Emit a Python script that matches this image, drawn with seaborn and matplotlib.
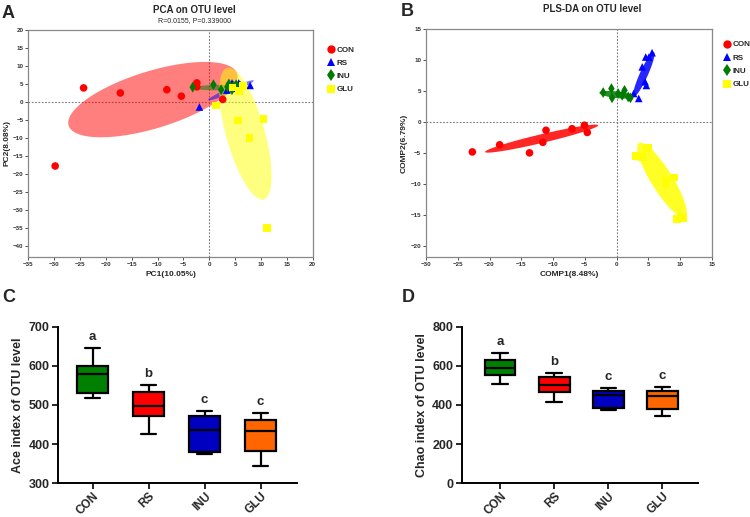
import numpy as np
import pandas as pd
import matplotlib
matplotlib.use("Agg")
import matplotlib.pyplot as plt
from matplotlib.lines import Line2D
import seaborn as sns

# ---- data -------------------------------------------------------------
groups = ["CON", "RS", "INU", "GLU"]

# panel A: PCA scores (PC1, PC2)
pca_x = {
    "CON": [-24.3, -17.2, -8.2, -5.4, -2.4, -2.4, 2.6, -29.8],
    "RS": [-1.9, 3.4, 4.4, 5.2, 5.7, 6.0, 7.9, 4.8],
    "INU": [-3.2, 0.8, 2.3, 3.8, 4.7, 4.4, 5.2, 3.5],
    "GLU": [1.3, 5.5, 10.5, 7.8, 11.2, 5.7, 4.5, 6.5],
}
pca_y = {
    "CON": [3.9, 2.5, 3.4, 1.6, 5.3, 4.2, 0.7, -17.8],
    "RS": [-1.4, 3.3, 5.3, 4.5, 5.3, 4.8, 4.6, 3.8],
    "INU": [4.1, 4.8, 3.4, 5.0, 4.4, 3.4, 4.8, 4.2],
    "GLU": [-1.0, -5.1, -4.7, -10.0, -35.0, 3.0, 4.0, 4.5],
}
# confidence ellipses: centre, semi-axis vector u, semi-axis vector v
pca_ell = {
    "CON": [(-10.9, 0.65), (16.3, 7.2), (-1.6, 7.6)],
    "RS": [(4.2, 3.25), (4.4, 2.7), (0.2, -0.69)],
    "INU": [(1.7, 4.0), (4.8, 0.1), (0.0, 0.75)],
    "GLU": [(7.0, -8.8), (3.55, -18.3), (3.6, 1.45)],
}

# panel B: PLS-DA scores (COMP1, COMP2)
pls_x = {
    "CON": [-22.7, -18.4, -13.7, -11.6, -11.1, -7.0, -5.05, -4.6],
    "RS": [3.5, 2.7, 4.05, 4.6, 5.6, 4.5, 4.7, 5.1],
    "INU": [-2.1, -0.8, -0.7, 0.26, 1.26, 1.84, 2.2, 0.9],
    "GLU": [3.1, 4.05, 5.0, 7.7, 9.05, 9.5, 10.5, 7.7],
}
pls_y = {
    "CON": [-4.85, -3.7, -5.0, -3.3, -1.35, -1.1, -0.54, -1.7],
    "RS": [3.8, 4.6, 8.9, 10.5, 11.2, 6.5, 5.9, 10.5],
    "INU": [4.75, 5.4, 3.9, 4.6, 5.1, 4.05, 3.9, 4.3],
    "GLU": [-5.55, -5.65, -4.2, -9.45, -9.0, -15.75, -15.5, -9.9],
}
pls_ell = {
    "CON": [(-11.8, -2.7), (8.9, 2.16), (0.16, -0.68)],
    "RS": [(4.3, 7.7), (1.58, 3.6), (0.58, -0.26)],
    "INU": [(0.0, 4.4), (2.7, -0.32), (-0.06, -0.53)],
    "GLU": [(7.16, -9.4), (3.63, -5.99), (1.43, 0.91)],
}

# panels C/D: box summaries [min, q1, median, q3, max]
ace_stats = {
    "CON": [517, 531, 578, 600, 646],
    "RS": [427, 473, 497, 534, 551],
    "INU": [375, 380, 436, 473, 485],
    "GLU": [345, 383, 434, 462, 480],
}
chao_stats = {
    "CON": [505, 554, 588, 631, 666],
    "RS": [415, 466, 503, 541, 564],
    "INU": [376, 384, 453, 473, 485],
    "GLU": [342, 381, 444, 469, 492],
}
sig_letters = ["a", "b", "c", "c"]

# ---- style ------------------------------------------------------------
sns.set_style("white")
plt.rcParams["font.family"] = ["Liberation Sans", "DejaVu Sans"]
plt.rcParams["font.weight"] = "bold"
plt.rcParams["axes.labelweight"] = "bold"

pt_colors = {"CON": "#ff0000", "RS": "#0000ff", "INU": "#007a00", "GLU": "#ffff00"}
markers = {"CON": "o", "RS": "^", "INU": "d", "GLU": "s"}
box_colors = {"CON": "#008000", "RS": "#ff0000", "INU": "#0000c0", "GLU": "#ff6600"}

fig = plt.figure(figsize=(7.5, 5.17), dpi=100)


def to_long(xd, yd):
    rows = []
    for g in groups:
        for x, y in zip(xd[g], yd[g]):
            rows.append({"x": x, "y": y, "group": g})
    return pd.DataFrame(rows)


def ordination(rect, xd, yd, ell, alpha, xlim, ylim, xt, yt, xlabel, ylabel, leg_xy):
    ax = fig.add_axes(rect)
    t = np.linspace(0, 2 * np.pi, 200)
    for g in groups:
        (cx, cy), (ux, uy), (vx, vy) = ell[g]
        ax.fill(cx + ux * np.cos(t) + vx * np.sin(t),
                cy + uy * np.cos(t) + vy * np.sin(t),
                color=pt_colors[g], alpha=alpha, lw=0, zorder=1)
    ax.axhline(0, color="#777777", ls=(0, (1.5, 1.5)), lw=0.8, zorder=0)
    ax.axvline(0, color="#777777", ls=(0, (1.5, 1.5)), lw=0.8, zorder=0)
    df = to_long(xd, yd)
    sns.scatterplot(data=df, x="x", y="y", hue="group", style="group",
                    palette=pt_colors, markers=markers, s=30, linewidth=0,
                    legend=False, ax=ax, zorder=3)
    ax.set_xlim(*xlim)
    ax.set_ylim(*ylim)
    ax.set_xticks(xt)
    ax.set_yticks(yt)
    ax.tick_params(labelsize=4.5, length=2, width=0.6, colors="#333333",
                   bottom=True, left=True, pad=1.5)
    for s in ax.spines.values():
        s.set_color("#888888")
        s.set_linewidth(0.9)
    ax.set_xlabel(xlabel, fontsize=6, labelpad=3)
    ax.set_ylabel(ylabel, fontsize=6, labelpad=2)
    handles = [Line2D([], [], ls="", marker=markers[g], color=pt_colors[g],
                      markersize=6, markeredgewidth=0, label=g) for g in groups]
    fig.legend(handles=handles, loc="upper left", bbox_to_anchor=leg_xy,
               frameon=False, fontsize=5.8, handletextpad=0.1,
               labelspacing=0.7, handlelength=1.2)
    return ax


ordination([0.0377, 0.5035, 0.3792, 0.4385], pca_x, pca_y, pca_ell, 0.5,
           (-35, 20), (-43, 20), np.arange(-35, 21, 5), np.arange(-40, 21, 5),
           "PC1(10.05%)", "PC2(8.08%)", (0.425, 0.925))
ordination([0.568, 0.5035, 0.381, 0.440], pls_x, pls_y, pls_ell, 0.85,
           (-30, 15), (-21.8, 15), np.arange(-30, 16, 5), np.arange(-20, 16, 5),
           "COMP1(8.48%)", "COMP2(6.79%)", (0.953, 0.935))

fig.text(194 / 750, 1 - 10 / 517, "PCA on OTU level", ha="center", va="center", fontsize=7)
fig.text(194 / 750, 1 - 21 / 517, "R=0.0155, P=0.339000", ha="center", va="center",
         fontsize=5, fontweight="normal")
fig.text(592 / 750, 1 - 9 / 517, "PLS-DA on OTU level", ha="center", va="center", fontsize=7)


def box_panel(rect, stats, ylim, yt, ylabel, xlim, width):
    ax = fig.add_axes(rect)
    rows = []
    for g in groups:
        for v in stats[g]:
            rows.append({"group": g, "value": v})
    df = pd.DataFrame(rows)
    sns.boxplot(data=df, x="group", y="value", hue="group", palette=box_colors,
                saturation=1, whis=(0, 100), width=width, linewidth=1.6,
                linecolor="black", legend=False, ax=ax)
    for i, g in enumerate(groups):
        ax.annotate(sig_letters[i], (i, stats[g][-1]), xytext=(0, 8),
                    textcoords="offset points", ha="center", va="center",
                    fontsize=9.5)
    ax.set_ylim(*ylim)
    ax.set_yticks(yt)
    ax.set_xlim(*xlim)
    sns.despine(ax=ax)
    for s in ("left", "bottom"):
        ax.spines[s].set_linewidth(1.4)
        ax.spines[s].set_color("black")
    ax.tick_params(labelsize=9, length=4, width=1.4, bottom=True, left=True, pad=2)
    ax.tick_params(axis="x", labelsize=8.5, pad=1)
    plt.setp(ax.get_xticklabels(), rotation=45, ha="right", rotation_mode="anchor")
    ax.set_xlabel("")
    ax.set_ylabel(ylabel, fontsize=9, labelpad=3)
    return ax


box_panel([0.0773, 0.0652, 0.3187, 0.303], ace_stats, (300, 700),
          np.arange(300, 701, 100), "Ace index of OTU level", (-0.62, 3.65), 0.55)
box_panel([0.6156, 0.0652, 0.315, 0.303], chao_stats, (0, 800),
          np.arange(0, 801, 200), "Chao index of OTU level", (-0.71, 3.66), 0.57)

for lab, x, y in [("A", 2, 13), ("B", 401, 11), ("C", 2, 298), ("D", 402, 298)]:
    fig.text(x / 750, 1 - y / 517, lab, ha="left", va="center", fontsize=13)

fig.savefig("out.png", dpi=100)
